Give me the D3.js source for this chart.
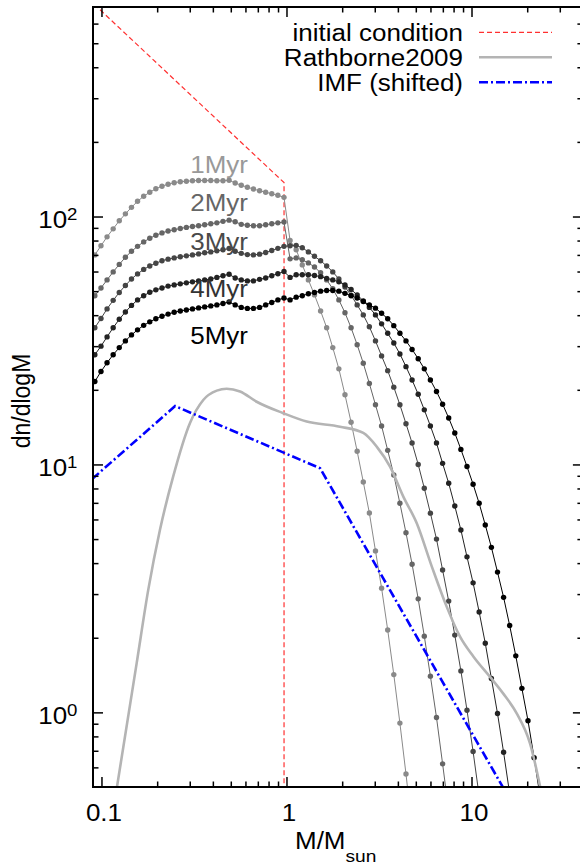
<!DOCTYPE html>
<html>
<head>
<meta charset="utf-8">
<script src="https://cdn.jsdelivr.net/npm/d3@7"></script>
<style>
  body { margin: 0; background: #fff; }
  svg text { font-family: "Liberation Sans", Arial, Helvetica, sans-serif; }
</style>
</head>
<body>
<svg id="chart" width="580" height="867"></svg>
<script>
// mass grid shared by the cluster runs (M/Msun)
var mass = [0.0921,0.0994,0.1072,0.1157,0.1248,0.1347,0.1453,0.1567,0.1691,0.1824,
            0.1968,0.2124,0.2291,0.2472,0.2667,0.2877,0.3104,0.3349,0.3613,0.3898,
            0.4205,0.4537,0.4895,0.5281,0.5697,0.6146,0.6631,0.7154,0.7718,0.8327,
            0.8984,0.9694,1.0457,1.128,1.217,1.313,1.417,1.529,1.649,1.779,
            1.919,2.071,2.234,2.410,2.601,2.805,3.027,3.266,3.524,3.802,
            4.102,4.425,4.774,5.151,5.557,5.995,6.468,6.978,7.529,8.122,
            8.763,9.454,10.20,11.00,11.87,12.81,13.82,14.91,16.08,17.35,
            18.72,20.20,21.79,23.51];

// dn/dlogM at each age
var myr1 = [70.0,76.2,82.8,89.2,96.1,102.5,108.9,115.2,120.7,125.3,
            129.4,132.5,135.0,136.9,138.1,138.8,139.4,139.7,139.7,139.7,
            139.4,139.4,140.0,136.5,133.7,131.3,129.1,127.0,125.3,123.5,
            121.8,119.5,80.0,73.4,63.8,55.5,48.3,41.6,35.6,29.6,
            24.3,19.1,14.8,11.3,8.5,6.37,4.48,3.17,2.15,1.42,
            0.905,0.564,0.34];
var myr2 = [47.9,51.5,55.5,59.8,64.1,68.5,72.4,75.8,79.0,81.7,
            84.0,85.9,87.4,88.4,89.5,90.4,91.2,91.8,92.6,93.5,
            94.3,95.6,96.7,95.2,93.0,92.2,91.8,91.8,92.6,93.5,
            94.3,95.0,67.5,68.1,66.9,65.0,62.6,59.3,55.5,51.1,
            46.1,40.9,35.6,30.4,25.6,21.2,17.4,14.3,11.4,9.07,
            6.97,5.30,3.96,2.87,2.03,1.40,0.954,0.62,0.40];
var myr3 = [35.6,38.8,42.4,45.9,49.4,52.7,56.0,58.7,61.2,63.2,
            64.8,66.3,67.3,68.1,68.8,69.4,70.0,70.7,71.4,72.0,
            72.7,73.4,74.3,72.4,71.0,70.2,70.0,70.5,71.6,72.9,
            74.4,75.8,76.2,76.5,74.8,72.0,69.1,66.3,63.2,59.8,
            56.0,52.0,48.1,44.0,40.1,35.9,31.5,27.4,23.9,20.5,
            17.4,14.6,12.2,10.0,8.02,6.36,5.00,3.75,2.81,2.05,
            1.47,1.02,0.695,0.46];
var myr4 = [27.7,30.0,32.7,35.6,38.5,41.2,43.8,46.1,47.9,49.5,
            50.6,51.5,52.4,53.0,53.5,54.0,54.5,55.0,55.5,56.0,
            56.8,57.7,58.5,56.5,55.5,55.0,55.0,55.8,56.5,57.7,
            58.8,60.0,56.8,58.2,58.2,58.2,57.8,57.2,56.3,55.5,
            54.5,53.0,50.8,48.3,45.7,43.0,40.1,36.9,33.8,30.9,
            27.9,24.8,21.9,19.2,16.6,14.3,12.2,10.1,8.40,6.80,
            5.44,4.24,3.33,2.54,1.90,1.37,0.99,0.69,0.47];
var myr5 = [21.6,23.7,25.7,27.7,29.6,31.5,33.3,34.9,36.4,37.6,
            38.7,39.6,40.4,41.1,41.6,42.0,42.4,42.8,43.2,43.6,
            44.0,44.6,45.2,44.0,43.0,42.6,42.6,43.0,44.0,45.0,
            46.1,46.9,46.1,47.3,47.9,48.8,49.4,50.0,50.3,50.3,
            50.0,49.0,47.9,46.9,45.4,44.0,42.7,40.7,38.7,36.3,
            33.8,31.5,29.1,26.7,24.3,21.9,19.7,17.5,15.4,13.4,
            11.5,9.81,8.32,6.97,5.70,4.63,3.68,2.91,2.24,1.69,
            1.25,0.925,0.656,0.455];
var ageNames = ["1Myr", "2Myr", "3Myr", "4Myr", "5Myr"];

// initial condition
var initMass  = [0.085, 0.97, 0.97];
var initValue = [755, 137, 0.3];

// Rathborne2009
var rathMass  = [0.118,0.155,0.179,0.207,0.244,0.301,0.355,0.420,0.475,0.561,
                 0.690,0.961,1.286,1.946,2.601,3.073,3.627,4.28,5.06,
                 6.09,7.34,8.67,10.23,12.59,14.85,17.55,20.71,24.35];
var rathValue = [0.44,1.58,3.12,5.44,8.93,14.7,18.2,19.85,20.2,19.7,
                 17.9,16.1,14.9,14.2,13.4,11.8,9.8,7.42,5.79,
                 3.89,2.67,2.02,1.68,1.39,1.19,0.99,0.75,0.44];

// IMF (shifted)
var imfMass  = [0.089, 0.25, 1.52, 16];
var imfValue = [8.73, 17.2, 9.65, 0.45];

// ticks
var xMajor = [0.1, 1, 10];
var xMinor = [0.2,0.3,0.4,0.5,0.6,0.7,0.8,0.9,2,3,4,5,6,7,8,9,20,30];
var yMajor = [1, 10, 100];
var yExp   = ["0", "1", "2"];
var yMinor = [0.6,0.7,0.8,0.9,2,3,4,5,6,7,8,9,20,30,40,50,60,70,80,90,200,300,400,500,600];

var L = 93, R = 582.9, T = 7, B = 787;
var stretch = 1.13;   // text in the original is a bit wide

var svg = d3.select("#chart");
var x = d3.scaleLog().domain([0.09, 40]).range([L, R]);
var y = d3.scaleLog().domain([0.5, 700]).range([B, T]);

svg.append("clipPath").attr("id", "plotclip")
   .append("rect").attr("x", L).attr("y", T).attr("width", R - L).attr("height", B - T);

var line = d3.line().x(function(d) { return x(d[0]); }).y(function(d) { return y(d[1]); });
function pairs(ms, vs) { return vs.map(function(v, i) { return [ms[i], v]; }); }

var plot = svg.append("g").attr("clip-path", "url(#plotclip)");

// initial condition
plot.append("path").attr("d", line(pairs(initMass, initValue)))
    .attr("fill", "none").attr("stroke", "#ff3030").attr("stroke-width", 1.2)
    .attr("stroke-dasharray", "5,3");

// cluster runs
var ageColor = ["#8a8a8a", "#666666", "#454545", "#232323", "#000000"];
[myr1, myr2, myr3, myr4, myr5].forEach(function(vals, k) {
    var pts = pairs(mass, vals);
    plot.append("path").attr("d", line(pts))
        .attr("fill", "none").attr("stroke", ageColor[k]).attr("stroke-width", 1);
    plot.append("g").selectAll("circle").data(pts).enter().append("circle")
        .attr("cx", function(d) { return x(d[0]); })
        .attr("cy", function(d) { return y(d[1]); })
        .attr("r", 2.7).attr("fill", ageColor[k]);
});

// Rathborne2009
plot.append("path")
    .attr("d", line.curve(d3.curveMonotoneX)(pairs(rathMass, rathValue)))
    .attr("fill", "none").attr("stroke", "#b4b4b4").attr("stroke-width", 2.6);
line.curve(d3.curveLinear);

// IMF
plot.append("path").attr("d", line(pairs(imfMass, imfValue)))
    .attr("fill", "none").attr("stroke", "#0000ff").attr("stroke-width", 2.6)
    .attr("stroke-dasharray", "9,3,2,3");

// ticks on all four sides, pointing inward
function ticks(axis, transform) {
    svg.append("g").attr("transform", transform).call(axis)
       .call(function(g) { g.select(".domain").remove(); g.selectAll("text").remove(); })
       .selectAll(".tick line").attr("stroke", "#000").attr("stroke-width", 1.5);
}
ticks(d3.axisBottom(x).tickValues(xMajor).tickSize(-10).tickSizeOuter(0), "translate(0," + B + ")");
ticks(d3.axisBottom(x).tickValues(xMinor).tickSize(-5.5).tickSizeOuter(0), "translate(0," + B + ")");
ticks(d3.axisTop(x).tickValues(xMajor).tickSize(-10).tickSizeOuter(0), "translate(0," + T + ")");
ticks(d3.axisTop(x).tickValues(xMinor).tickSize(-5.5).tickSizeOuter(0), "translate(0," + T + ")");
ticks(d3.axisLeft(y).tickValues(yMajor).tickSize(-10).tickSizeOuter(0), "translate(" + L + ",0)");
ticks(d3.axisLeft(y).tickValues(yMinor).tickSize(-5.5).tickSizeOuter(0), "translate(" + L + ",0)");
ticks(d3.axisRight(y).tickValues(yMajor).tickSize(-10).tickSizeOuter(0), "translate(" + R + ",0)");
ticks(d3.axisRight(y).tickValues(yMinor).tickSize(-5.5).tickSizeOuter(0), "translate(" + R + ",0)");

svg.append("rect").attr("x", L).attr("y", T).attr("width", R - L).attr("height", B - T)
   .attr("fill", "none").attr("stroke", "#000").attr("stroke-width", 2);

function label(px, py, str, anchor, size, color) {
    return svg.append("text")
        .attr("transform", "translate(" + px + "," + py + ") scale(" + stretch + ",1)")
        .attr("text-anchor", anchor).attr("font-size", size)
        .attr("fill", color || "#000").text(str);
}

// tick labels
xMajor.forEach(function(v) { label(x(v) + 2.5, B + 34, String(v), "middle", 23); });
yMajor.forEach(function(v, i) {
    var t = label(77.5, y(v) + 11.6, null, "end", 23);
    t.append("tspan").text("10");
    t.append("tspan").attr("dy", -8.3).attr("font-size", 16.5).text(yExp[i]);
});

// axis titles
svg.append("text")
   .attr("transform", "translate(30," + 401 + ") scale(" + stretch + ",1) rotate(-90)")
   .attr("text-anchor", "middle").attr("font-size", 23).text("dn/dlogM");
var xt = label(295, 849.3, null, "start", 23);
xt.append("tspan").text("M/M");
xt.append("tspan").attr("dy", 12.4).attr("font-size", 17).text("sun");

// age labels next to the curves
var labelColor = ["#999999", "#666666", "#4a4a4a", "#333333", "#000000"];
var labelAt = [150, 105.4, 73.4, 47.4, 30.6];
ageNames.forEach(function(n, k) {
    label(x(0.302), y(labelAt[k]), n, "start", 23, labelColor[k]);
});

// legend
var legend = [
    { name: "initial condition", stroke: "#ff3030", width: 1.2, dash: "5,3" },
    { name: "Rathborne2009", stroke: "#b4b4b4", width: 2.6, dash: null },
    { name: "IMF (shifted)", stroke: "#0000ff", width: 2.6, dash: "9,3,2,3" }
];
legend.forEach(function(d, i) {
    var cy = 32.3 + i * 25;
    label(463, cy + 8.4, d.name, "end", 23);
    svg.append("line").attr("x1", 479).attr("x2", 552).attr("y1", cy).attr("y2", cy)
       .attr("stroke", d.stroke).attr("stroke-width", d.width)
       .attr("stroke-dasharray", d.dash);
});
</script>
</body>
</html>
